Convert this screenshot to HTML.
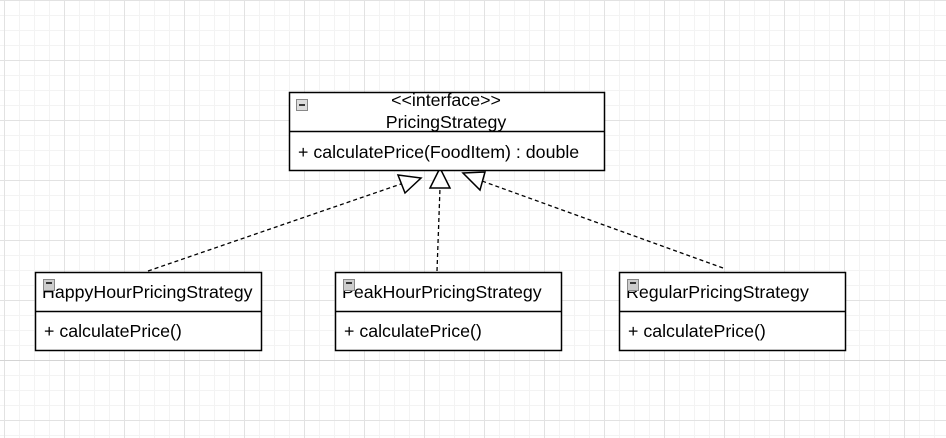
<!DOCTYPE html>
<html><head><style>
html,body{margin:0;padding:0;background:#fff}
svg{display:block}
text{font-family:"Liberation Sans",Arial,sans-serif;font-size:17.8px;fill:#000}
</style></head><body>
<svg width="946" height="438" viewBox="0 0 946 438" xmlns="http://www.w3.org/2000/svg">
<defs>
<pattern id="minor" width="15" height="15" patternUnits="userSpaceOnUse" x="4" y="0">
<path d="M0.5 0V15M0 0.5H15" stroke="#f3f3f3" stroke-width="1" fill="none"/>
</pattern>
<pattern id="major" width="60" height="60" patternUnits="userSpaceOnUse" x="4" y="0">
<path d="M0.5 0V60M0 0.5H60" stroke="#e2e2e2" stroke-width="1" fill="none"/>
</pattern>
</defs>
<rect width="946" height="438" fill="url(#minor)"/>
<rect width="946" height="438" fill="url(#major)"/>
<line x1="0" y1="360.5" x2="946" y2="360.5" stroke="#d4d4d4"/>

<g stroke="#000" stroke-width="1.3" fill="none" stroke-dasharray="4,3">
<line x1="148" y1="271" x2="401" y2="184"/>
<line x1="437" y1="271" x2="440" y2="188"/>
<line x1="723" y1="268" x2="482" y2="181"/>
</g>
<g stroke="#000" stroke-width="1.5" fill="#fff">
<polygon points="398,175 421,178 405,193"/>
<polygon points="440,168 430,188 450,188"/>
<polygon points="463,173 485,172 480,190"/>
</g>

<g stroke="#000" stroke-width="1.5" fill="#fff">
<rect x="289.5" y="92.5" width="315" height="78"/>
<line x1="289.5" y1="131.5" x2="604.5" y2="131.5"/>
</g>
<rect x="296.5" y="99.5" width="11" height="11" fill="#ddd" stroke="#888"/>
<line x1="299" y1="105" x2="305" y2="105" stroke="#000" stroke-width="1.5"/>
<text x="446" y="106" text-anchor="middle">&lt;&lt;interface&gt;&gt;</text>
<text x="446" y="128" text-anchor="middle">PricingStrategy</text>
<text x="298" y="158">+ calculatePrice(FoodItem) : double</text>

<g stroke="#000" stroke-width="1.5" fill="#fff">
<rect x="35.5" y="272.5" width="226" height="78"/>
<line x1="35.5" y1="311.5" x2="261.5" y2="311.5"/>
<rect x="335.5" y="272.5" width="226" height="78"/>
<line x1="335.5" y1="311.5" x2="561.5" y2="311.5"/>
<rect x="619.5" y="272.5" width="226" height="78"/>
<line x1="619.5" y1="311.5" x2="845.5" y2="311.5"/>
</g>
<text x="42" y="298">HappyHourPricingStrategy</text>
<text x="44" y="337">+ calculatePrice()</text>
<text x="342" y="298">PeakHourPricingStrategy</text>
<text x="344" y="337">+ calculatePrice()</text>
<text x="626" y="298">RegularPricingStrategy</text>
<text x="628" y="337">+ calculatePrice()</text>
<g fill="#ccc" stroke="#888">
<rect x="43.5" y="279.5" width="11" height="11"/>
<rect x="343.5" y="279.5" width="11" height="11"/>
<rect x="627.5" y="279.5" width="11" height="11"/>
</g>
<g stroke="#000" stroke-width="1.5">
<line x1="46" y1="283" x2="52" y2="283"/>
<line x1="346" y1="283" x2="352" y2="283"/>
<line x1="630" y1="283" x2="636" y2="283"/>
</g>
</svg>
</body></html>
